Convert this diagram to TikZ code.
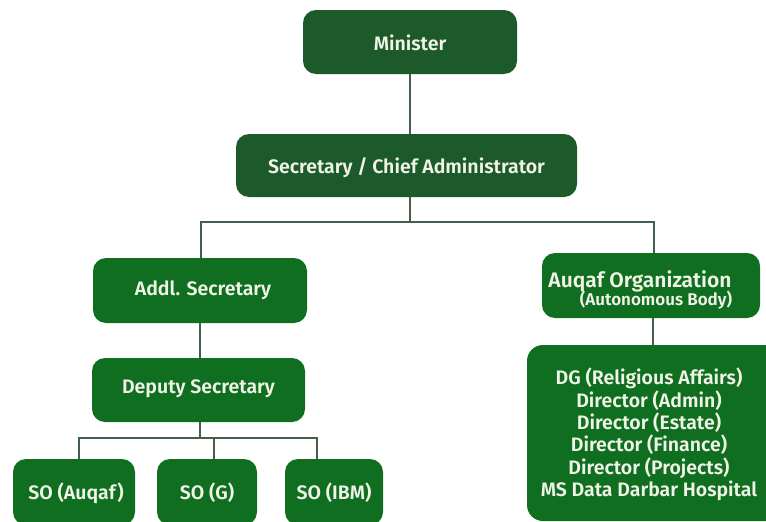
\documentclass[tikz,border=0pt]{standalone}
\usepackage{fontspec}
\setmainfont{Fira Sans}[UprightFont={* SemiBold}]
\definecolor{darkg}{HTML}{1C5A2B}
\definecolor{brightg}{HTML}{0F6E20}
\definecolor{linec}{HTML}{44604A}
\definecolor{txt}{HTML}{F0F4E6}
\begin{document}
\begin{tikzpicture}[x=1pt,y=1pt,
  box/.style={rounded corners=13pt, inner sep=0pt},
  topbox/.style={box, fill=darkg},
  lowbox/.style={box, fill=brightg},
  lbl/.style={inner sep=0pt, align=center, text=txt, font=\fontsize{19.5}{22.4}\selectfont},
  conn/.style={draw=linec, line width=1.3pt}]
\useasboundingbox (0,0) rectangle (766,-522);
\clip (0,0) rectangle (766,-522);
% boxes
\node[topbox, minimum width=214, minimum height=64] (min) at (410,-42) {};
\node[lbl] (minT) at (410,-43) {Minister};
\node[topbox, minimum width=341, minimum height=63] (sec) at (406.5,-165.5) {};
\node[lbl] (secT) at (406.5,-168) {Secretary / Chief Administrator};
\node[lowbox, minimum width=214, minimum height=65] (addl) at (200,-290.5) {};
\node[lbl] (addlT) at (203,-290) {Addl. Secretary};
\node[lowbox, minimum width=213, minimum height=64] (dep) at (198.5,-390) {};
\node[lbl] (depT) at (198.5,-389) {Deputy Secretary};
\node[lowbox, minimum width=122, minimum height=66] (so1) at (74,-492) {};
\node[lbl] (so1T) at (76,-493) {SO (Auqaf)};
\node[lowbox, minimum width=100, minimum height=66] (so2) at (207,-492) {};
\node[lbl] (so2T) at (207,-493) {SO (G)};
\node[lowbox, minimum width=98, minimum height=66] (so3) at (334,-492) {};
\node[lbl] (so3T) at (334,-493) {SO (IBM)};
\node[lowbox, minimum width=218, minimum height=65] (auq) at (651,-285.5) {};
\node[lbl, font=\fontsize{21}{22}\selectfont] (auqT) at (640,-281) {Auqaf Organization};
\node[lbl, font=\fontsize{17}{18}\selectfont] (auqT2) at (656,-300) {(Autonomous Body)};
\fill[brightg, rounded corners=16pt] (527,-345) rectangle (800,-521);
\node[lbl] (dirs) at (649,-434.5) {DG (Religious Affairs)\\Director (Admin)\\Director (Estate)\\Director (Finance)\\Director (Projects)\\MS Data Darbar Hospital};
\coordinate (dirtop) at (653,-345);
% connectors
\coordinate (bus) at (0,-222);
\coordinate (m) at (410,0);
\draw[conn] (min.south -| m) -- (sec.north -| m);
\draw[conn] (sec.south -| m) -- (bus -| m);
\coordinate (la) at (201,0);
\coordinate (ra) at (654,0);
\draw[conn] (addl.north -| la) -- (bus -| la) -- (bus -| ra) -- (auq.north -| ra);
\coordinate (ro) at (653,0);
\draw[conn] (auq.south -| ro) -- (dirtop);
\coordinate (dx) at (200,0);
\draw[conn] (addl.south -| dx) -- (dep.north -| dx);
\coordinate (bus2) at (0,-438);
\draw[conn] (dep.south -| dx) -- (bus2 -| dx);
\coordinate (d1) at (79,0);
\coordinate (d2) at (214,0);
\coordinate (d3) at (317,0);
\draw[conn] (so1.north -| d1) -- (bus2 -| d1) -- (bus2 -| d3) -- (so3.north -| d3);
\draw[conn] (bus2 -| d2) -- (so2.north -| d2);
\end{tikzpicture}
\end{document}
